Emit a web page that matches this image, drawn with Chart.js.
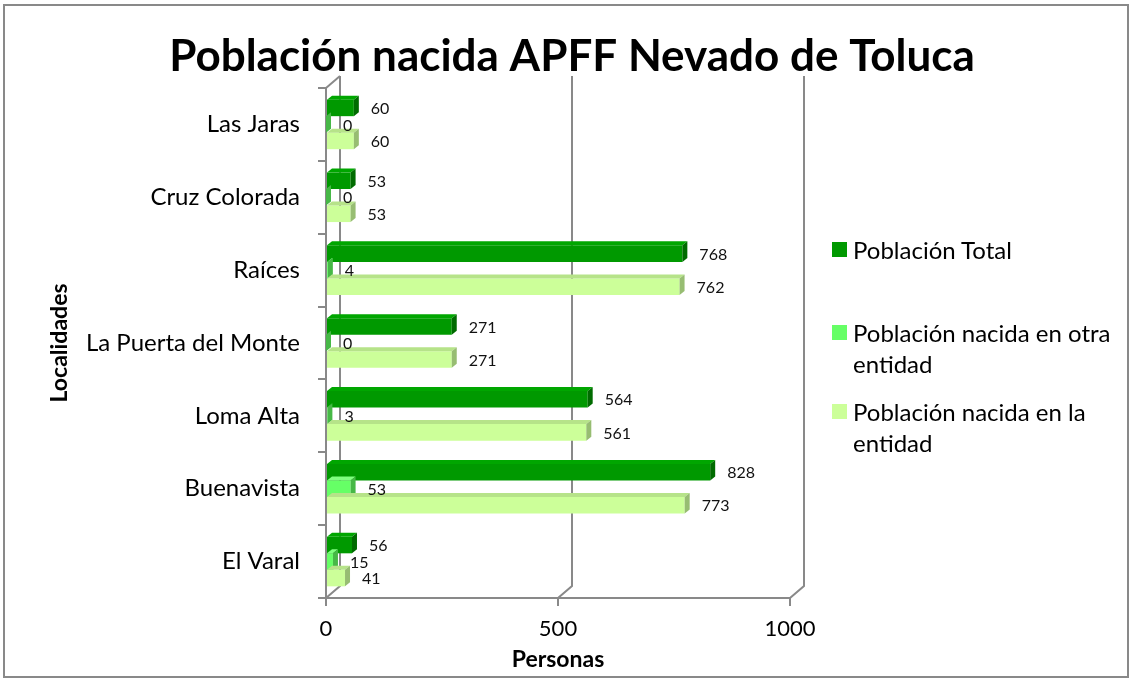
<!DOCTYPE html>
<html lang="es">
<head>
<meta charset="utf-8">
<title>Población nacida APFF Nevado de Toluca</title>
<script src="https://cdn.jsdelivr.net/npm/chart.js@4/dist/chart.umd.min.js"></script>
<style>
  html, body { margin: 0; padding: 0; background: #fff; }
  #contenedor { position: relative; width: 1133px; height: 681px; font-family: Lato, sans-serif; }
  #marco { position: absolute; left: 3px; top: 4px; width: 1126px; height: 674px; box-sizing: border-box; border: 2px solid #898989; pointer-events: none; }
  .item { position: absolute; left: 832px; width: 296px; font-size: 24px; line-height: 31px; color: #000; }
  .item span.caja { position: absolute; left: 0; top: 8px; width: 15px; height: 15px; }
  .item span.texto { display: block; margin-left: 21px; width: 272px; }
</style>
</head>
<body>
<div id="contenedor">
  <canvas id="miGrafico" width="1133" height="681"></canvas>
  <div id="leyenda"></div>
  <div id="marco"></div>
</div>
<script>
// Datos del gráfico
const categorias = ['Las Jaras', 'Cruz Colorada', 'Raíces', 'La Puerta del Monte', 'Loma Alta', 'Buenavista', 'El Varal'];
const poblacionTotal = [60, 53, 768, 271, 564, 828, 56];
const nacidaOtraEntidad = [0, 0, 4, 0, 3, 53, 15];
const nacidaEnEntidad = [60, 53, 762, 271, 561, 773, 41];
const ticksX = [0, 500, 1000];
const series = ['Población Total', 'Población nacida en otra entidad', 'Población nacida en la entidad'];

// colores: frente, cara superior, lateral
const colores = [
    ['#009900', '#00a600', '#006b00'],
    ['#66ff66', '#80ff80', '#47b847'],
    ['#ccff99', '#b6e389', '#97bd72']
];

const FX = 14, FY = 12;   // profundidad de las paredes
const BX = 5, BY = 4;     // profundidad de las barras

// Efecto 3D aproximado (paredes y caras de las barras) + etiquetas
const efecto3D = {
    id: 'efecto3D',
    beforeDatasetsDraw(chart) {
        const { ctx, chartArea: a, scales: { x } } = chart;
        ctx.save();
        ctx.strokeStyle = '#898989';
        ctx.lineWidth = 2;
        ticksX.forEach(v => {
            const px = x.getPixelForValue(v);
            ctx.beginPath();
            ctx.moveTo(px + FX, a.top - FY);
            ctx.lineTo(px + FX, a.bottom - FY);
            ctx.lineTo(px, a.bottom);
            ctx.stroke();
        });
        ctx.beginPath();
        ctx.moveTo(a.left, a.top);
        ctx.lineTo(a.left + FX, a.top - FY);
        ctx.stroke();
        ctx.restore();
    },
    afterDatasetsDraw(chart) {
        const ctx = chart.ctx;
        ctx.save();
        chart.data.datasets.forEach((ds, i) => {
            const meta = chart.getDatasetMeta(i);
            meta.data.forEach(el => {
                const { x, y, base, height } = el.getProps(['x', 'y', 'base', 'height'], true);
                const t = y - height / 2, b = y + height / 2;
                // cara superior
                ctx.fillStyle = colores[i][1];
                ctx.beginPath();
                ctx.moveTo(base, t);
                ctx.lineTo(x, t);
                ctx.lineTo(x + BX, t - BY);
                ctx.lineTo(base + BX, t - BY);
                ctx.closePath();
                ctx.fill();
                // cara lateral
                ctx.fillStyle = colores[i][2];
                ctx.beginPath();
                ctx.moveTo(x, t);
                ctx.lineTo(x + BX, t - BY);
                ctx.lineTo(x + BX, b - BY);
                ctx.lineTo(x, b);
                ctx.closePath();
                ctx.fill();
            });
        });
        // etiquetas de datos
        ctx.fillStyle = '#111';
        ctx.font = '16px Lato';
        ctx.textAlign = 'left';
        ctx.textBaseline = 'middle';
        chart.data.datasets.forEach((ds, i) => {
            chart.getDatasetMeta(i).data.forEach((el, j) => {
                ctx.fillText(String(ds.data[j]), el.x + 17, el.y + 1);
            });
        });
        ctx.restore();
    },
    afterDraw(chart) {
        const ctx = chart.ctx;
        ctx.save();
        ctx.fillStyle = '#000';
        ctx.font = 'bold 44px Lato';
        ctx.textAlign = 'center';
        ctx.textBaseline = 'middle';
        ctx.fillText('Población nacida APFF Nevado de Toluca', 572, 57);
        ctx.restore();
    }
};

const ctx = document.getElementById('miGrafico').getContext('2d');
new Chart(ctx, {
    type: 'bar',
    data: {
        labels: categorias,
        datasets: [
            { label: series[0], data: poblacionTotal, backgroundColor: colores[0][0] },
            { label: series[1], data: nacidaOtraEntidad, backgroundColor: colores[1][0] },
            { label: series[2], data: nacidaEnEntidad, backgroundColor: colores[2][0] }
        ]
    },
    options: {
        indexAxis: 'y',
        responsive: false,
        animation: false,
        layout: { padding: { left: 0, right: 343, top: 88, bottom: 0 } },
        datasets: { bar: { categoryPercentage: 0.68, barPercentage: 1, borderWidth: 0 } },
        plugins: {
            legend: { display: false },
            title: { display: false },
            tooltip: { enabled: false }
        },
        scales: {
            x: {
                min: 0,
                max: 1000,
                afterBuildTicks: s => { s.ticks = ticksX.map(v => ({ value: v })); },
                afterFit: s => { s.height = 83; },
                grid: { drawOnChartArea: false, tickLength: 8, color: '#898989', lineWidth: 2 },
                border: { display: true, color: '#898989', width: 2 },
                ticks: { color: '#000', font: { family: 'Lato', size: 22 }, padding: 10, maxRotation: 0, callback: v => String(v) },
                title: { display: true, text: 'Personas', color: '#000', font: { family: 'Lato', size: 23, weight: 'bold' }, padding: { top: 0, bottom: 8 } }
            },
            y: {
                afterFit: s => { s.width = 326; },
                grid: { drawOnChartArea: false, offset: true, tickLength: 8, color: '#898989', lineWidth: 2 },
                border: { display: true, color: '#898989', width: 2 },
                ticks: { color: '#000', font: { family: 'Lato', size: 24 }, padding: 18 },
                title: { display: true, text: 'Localidades', color: '#000', font: { family: 'Lato', size: 23, weight: 'bold' }, padding: { top: 46 } }
            }
        }
    },
    plugins: [efecto3D]
});

// Leyenda en HTML (texto con salto de línea como en el original)
const topesLeyenda = [234, 317, 396];
const leyenda = document.getElementById('leyenda');
series.forEach((nombre, i) => {
    const item = document.createElement('div');
    item.className = 'item';
    item.style.top = topesLeyenda[i] + 'px';
    item.innerHTML = '<span class="caja" style="background:' + colores[i][0] + '"></span><span class="texto">' + nombre + '</span>';
    leyenda.appendChild(item);
});
</script>
</body>
</html>
